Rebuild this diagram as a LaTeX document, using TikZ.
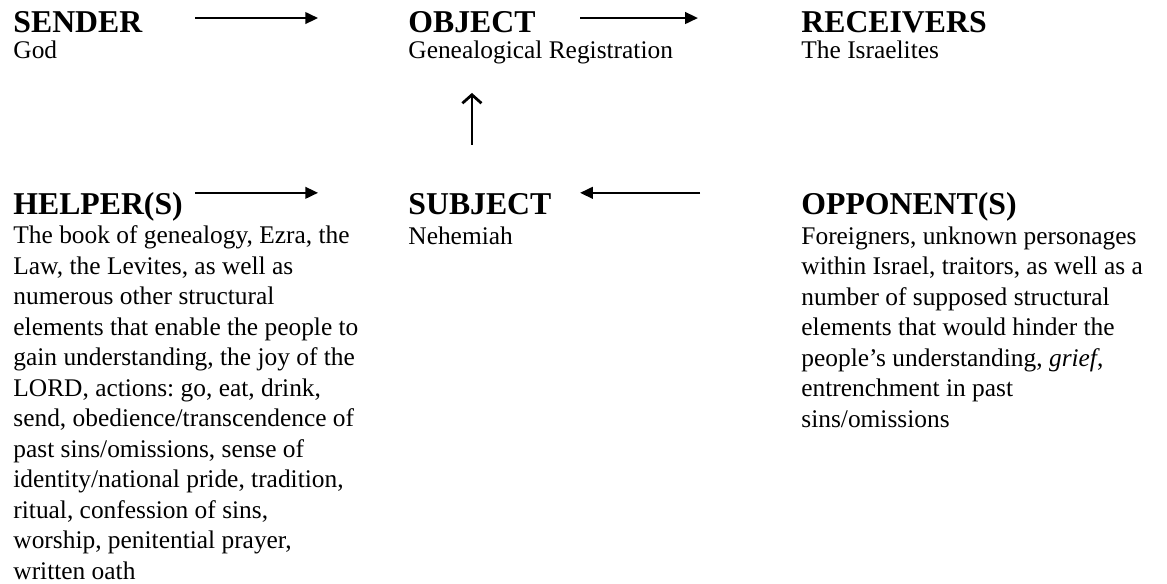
\documentclass[tikz,border=0pt]{standalone}
\usepackage{fontspec}
\setmainfont{Liberation Serif}
\usetikzlibrary{arrows.meta}
\frenchspacing

\begin{document}
\begin{tikzpicture}[x=0.4724pt, y=-0.4724pt,
		role/.style={anchor=base west, inner sep=0pt, font=\fontsize{15}{18}\selectfont\bfseries},
		who/.style={anchor=base west, inner sep=0pt, align=left, font=\fontsize{12}{14.4}\selectfont},
		flow/.style={-{Triangle[length=6pt, width=5.5pt]}, line width=0.9pt},
		lift/.style={-{Straight Barb[length=4pt, width=9pt]}, line width=1.3pt}]

		\useasboundingbox (0,0) rectangle (1167,584);

		\node [role] (sender) at (13,32) {SENDER};
		\node [who] (god) at (13,58) {God};
		\node [role] (object) at (408,32) {OBJECT};
		\node [who] (registration) at (408,58) {Genealogical Registration};
		\node [role] (receivers) at (801,32) {RECEIVERS};
		\node [who] (israelites) at (801,58) {The Israelites};

		% lists: base is the baseline of the last line
		\node [role] (helpers) at (13,214) {HELPER(S)};
		\node [who] (helperlist) at (13,579) {The book of genealogy, Ezra, the\\
			Law, the Levites, as well as\\
			numerous other structural\\
			elements that enable the people to\\
			gain understanding, the joy of the\\
			LORD, actions: go, eat, drink,\\
			send, obedience/transcendence of\\
			past sins/omissions, sense of\\
			identity/national pride, tradition,\\
			ritual, confession of sins,\\
			worship, penitential prayer,\\
			written oath};
		\node [role] (subject) at (408,214) {SUBJECT};
		\node [who] (nehemiah) at (408,244) {Nehemiah};
		\node [role] (opponents) at (801,214) {OPPONENT(S)};
		\node [who] (opponentlist) at (801,427) {Foreigners, unknown personages\\
			within Israel, traitors, as well as a\\
			number of supposed structural\\
			elements that would hinder the\\
			people’s understanding, \textit{grief},\\
			entrenchment in past\\
			sins/omissions};

		\draw [flow, shorten <=86pt, shorten >=42.5pt] ([yshift=6.6pt]sender.base west) -- ([yshift=6.6pt]object.base west);
		\draw [flow, shorten <=81.3pt, shorten >=48.7pt] ([yshift=6.6pt]object.base west) -- ([yshift=6.6pt]receivers.base west);
		\draw [flow, shorten <=86pt, shorten >=42.5pt] ([yshift=10pt]helpers.base west) -- ([yshift=10pt]subject.base west);
		\draw [flow, shorten <=47.7pt, shorten >=81.3pt] ([yshift=10pt]opponents.base west) -- ([yshift=10pt]subject.base west);
		\draw [lift, shorten <=32.6pt, shorten >=16.5pt] ([xshift=30.2pt]subject.base west) -- ([xshift=30.2pt]registration.base west);
	\end{tikzpicture}
\end{document}
